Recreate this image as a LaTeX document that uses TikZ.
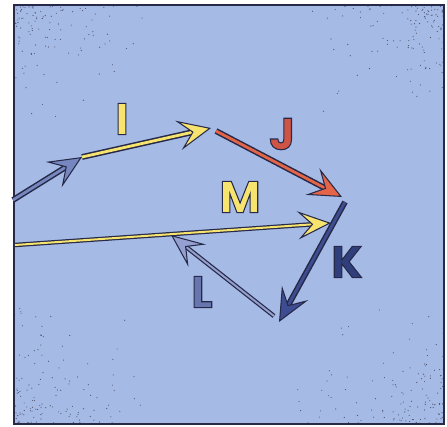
\documentclass[tikz,border=0pt]{standalone}
\usepackage{fontspec}
\setsansfont{Poppins}
\usetikzlibrary{arrows.meta}
\usepackage{xcolor}

\definecolor{panel}{RGB}{166,186,230}
\definecolor{edge}{RGB}{38,42,72}
\definecolor{vyellow}{RGB}{246,228,110}
\definecolor{vred}{RGB}{228,100,72}
\definecolor{vnavy}{RGB}{62,76,146}
\definecolor{vslate}{RGB}{118,134,190}
\definecolor{vsteel}{RGB}{150,160,208}
\definecolor{lnavy}{RGB}{48,62,124}
\definecolor{lsteel}{RGB}{104,118,176}
\definecolor{lred}{RGB}{206,84,70}

% letra con contorno oscuro (modo de texto 2: relleno y trazo)
\newcommand{\inked}[1]{\special{pdf:code 2 Tr 0.9 w 0.149 0.165 0.282 RG}#1\special{pdf:code 0 Tr}}

\begin{document}
\begin{tikzpicture}[x=0.3mm, y=-0.3mm,
        vec/.style={draw=#1, line width=2.4pt, -{Stealth[length=10mm, width=9mm, inset=4.2mm, fill=#1, color=edge, line width=0.9pt]}, preaction={draw=edge, line width=5pt, -, shorten >=5mm}},
        slimvec/.style={draw=#1, line width=1.7pt, -{Stealth[length=10mm, width=8.5mm, inset=4.2mm, fill=#1, color=edge, line width=0.9pt]}, preaction={draw=edge, line width=3.8pt, -, shorten >=5mm}},
        lbl/.style={font=\fontsize{38}{38}\selectfont\sffamily\bfseries, inner sep=0pt}
    ]
        \useasboundingbox (0,0) rectangle (447,426);

        % Fondo del panel
        \fill[white] (0,0) rectangle (447,426);
        \fill[panel] (14,5) rectangle (444,424);

        % Punteado en las esquinas
        \pgfmathsetseed{11}
        \foreach \cx/\cy/\sx/\sy in {14/5/1/1, 444/5/-1/1, 14/424/1/-1, 444/424/-1/-1}{
            \foreach \k in {1,...,130}{
                \pgfmathsetmacro{\px}{\cx+\sx*150*rnd*rnd}
                \pgfmathsetmacro{\py}{\cy+\sy*120*rnd*rnd}
                \fill[edge!80] (\px,\py) circle (0.5pt);
            }
        }
        \draw[edge, line width=1.2pt] (14,5) rectangle (444,424);

        % Puntos de los vectores
        \coordinate (entry) at (13,200);
        \coordinate (joinI) at (82,157);
        \coordinate (tipI) at (211,128);
        \coordinate (tailJ) at (216,131);
        \coordinate (tipJ) at (342,197);
        \coordinate (tailK) at (345,202);
        \coordinate (tipK) at (279,322);
        \coordinate (tailL) at (274,316);
        \coordinate (tipL) at (171,235);
        \coordinate (tailM) at (15,245);
        \coordinate (tipM) at (331,223);

        % Vectores
        \draw[vec=vslate] (entry) -- (joinI);
        \draw[vec=vyellow] (joinI) -- (tipI);
        \draw[vec=vred] (tailJ) -- (tipJ);
        \draw[slimvec=vyellow] (tailM) -- (tipM);
        \draw[vec=vnavy] (tailK) -- (tipK);
        \draw[slimvec=vsteel] (tailL) -- (tipL);

        % Etiquetas
        \node[lbl, text=vyellow] (labI) at (122,119) {\inked{I}};
        \node[lbl, text=lred] (labJ) at (282,134) {\inked{J}};
        \node[lbl, text=vyellow] (labM) at (240,197) {\inked{M}};
        \node[lbl, text=lnavy] (labK) at (347,262) {\inked{K}};
        \node[lbl, text=lsteel] (labL) at (202,292) {\inked{L}};
    \end{tikzpicture}
\end{document}
